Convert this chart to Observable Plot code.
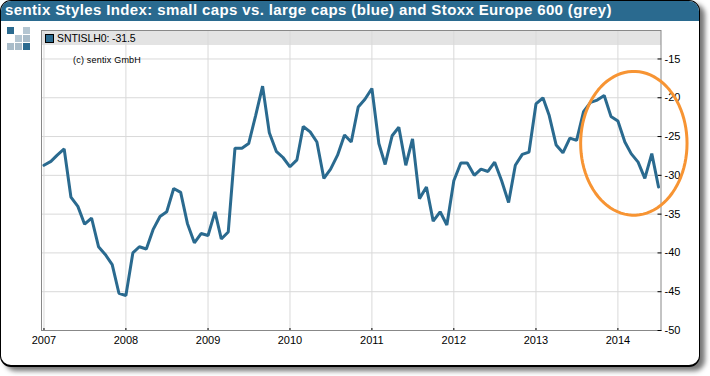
<!DOCTYPE html>
<html>
<head>
<meta charset="utf-8">
<script src="https://cdn.jsdelivr.net/npm/d3@7"></script>
<script src="https://cdn.jsdelivr.net/npm/@observablehq/plot@0.6"></script>
<style>
html,body{margin:0;padding:0;background:#fff;width:710px;height:376px;overflow:hidden}
#wrap{position:relative;width:710px;height:376px;font-family:"Liberation Sans",Arial,sans-serif}
#card{position:absolute;left:0;top:0;width:698px;height:364px;border:1px solid #000;border-bottom-width:2px;border-radius:11px;background:#fff;box-shadow:5px 4px 5px #777;overflow:hidden}
#bar{position:absolute;left:0;top:0;right:0;height:20px;background:#2a6a8f}
#title{position:absolute;left:5px;top:0;line-height:20px;color:#fff;font-weight:bold;font-size:15px;letter-spacing:.38px;white-space:nowrap}
#band{position:absolute;left:41px;top:30px;width:619.5px;height:15px;background:#e3e3e3}
#swatch{position:absolute;left:45px;top:34px;width:7px;height:7px;background:#2a6a8f;border:1px solid #000}
#legend{position:absolute;left:57px;top:31px;line-height:14px;font-size:10.5px;letter-spacing:-.1px;color:#000;white-space:nowrap}
#copy{position:absolute;left:73px;top:54px;line-height:12px;font-size:9px;letter-spacing:.2px;color:#000;white-space:nowrap}
.sq{position:absolute;width:7px;height:7px}
#chart{position:absolute;left:0;top:0}
#chart svg{background:transparent;overflow:visible}
</style>
</head>
<body>
<div id="wrap">
  <div id="card"><div id="bar"></div></div>
  <div id="title">sentix Styles Index: small caps vs. large caps (blue) and Stoxx Europe 600 (grey)</div>
  <div id="band"></div>
  <div id="chart"></div>
  <div id="swatch"></div>
  <div id="legend">SNTISLH0: -31.5</div>
  <div id="copy">(c) sentix GmbH</div>
</div>
<script>
const startYear = 2007;
const values = [
  -28.7,-28.2,-27.4,-26.6,-32.8,-34.0,-36.3,-35.5,-39.2,-40.2,-41.5,-45.2,
  -45.5,-40.0,-39.2,-39.5,-37.0,-35.3,-34.7,-31.7,-32.2,-36.2,-38.7,-37.5,
  -37.75,-34.7,-38.2,-37.3,-26.5,-26.5,-25.9,-22.3,-18.5,-24.5,-26.9,-27.7,
  -28.9,-28.0,-23.7,-24.4,-25.7,-30.4,-29.2,-27.4,-24.8,-25.7,-21.2,-20.2,
  -18.8,-25.9,-28.6,-24.9,-23.8,-28.7,-25.3,-33.0,-31.5,-35.9,-34.7,-36.4,
  -30.7,-28.4,-28.4,-30.0,-29.2,-29.5,-28.3,-30.7,-33.5,-28.7,-27.3,-27.0,
  -20.8,-20.0,-22.3,-26.1,-27.1,-25.2,-25.5,-21.8,-20.6,-20.3,-19.7,-22.4,
  -23.0,-25.7,-27.2,-28.3,-30.4,-27.2,-31.5
];
const yearTicks = [2007,2008,2009,2010,2011,2012,2013,2014];
const valueTicks = [-15,-20,-25,-30,-35,-40,-45,-50];
const gridValues = [-15,-20,-25,-30,-35,-40,-45];

// annotation: the hand-drawn orange ring, in data units
const ringCenterDate = new Date(Date.UTC(2014,2,13));
const ringHalfWidthDays = 237;
const ringCenterValue = -25.87;
const ringHalfHeight = 9.27;
const ringAngles = d3.range(0, 361, 4);

const series = values.map((v,i)=>({date:new Date(Date.UTC(startYear,i,1)), value:v}));
const yearDates = yearTicks.map(y=>new Date(Date.UTC(y,0,1)));
const ring = ringAngles.map(a=>({
  date:new Date(+ringCenterDate + Math.cos(a*Math.PI/180)*ringHalfWidthDays*864e5),
  value:ringCenterValue + Math.sin(a*Math.PI/180)*ringHalfHeight
}));

const logo = [[7,27,"#2a6a8f"],[23,27,"#b4c6d2"],[15,35,"#b4c6d2"],[23,35,"#a9bcc9"],[7,43,"#a9bcc9"],[15,43,"#a9bcc9"],[23,43,"#2a6a8f"]];
const wrap = document.getElementById("wrap");
logo.forEach(([x,y,c])=>{const d=document.createElement("div");d.className="sq";d.style.left=x+"px";d.style.top=y+"px";d.style.background=c;wrap.appendChild(d);});

const chart = Plot.plot({
  width:710, height:376,
  marginLeft:41, marginRight:49.5, marginTop:30, marginBottom:46,
  style:{fontFamily:'"Liberation Sans",Arial,sans-serif',fontSize:"11px",color:"#000",background:"transparent"},
  x:{type:"utc",domain:[new Date(Date.UTC(2006,11,21)),new Date(Date.UTC(2014,6,12))]},
  y:{domain:[-50,-11.33]},
  marks:[
    Plot.ruleY(gridValues,{stroke:"#d9d9d9",strokeWidth:1}),
    Plot.ruleX(yearDates,{stroke:"#d9d9d9",strokeWidth:1}),
    Plot.frame({stroke:"#888",strokeWidth:1}),
    Plot.axisX({ticks:yearDates,tickFormat:d=>String(d.getUTCFullYear()),tickSize:-2,tickPadding:8,label:null,stroke:"#000",fontSize:11,fill:"#000"}),
    Plot.axisY({anchor:"right",ticks:valueTicks,tickFormat:d=>String(d),tickSize:-4,tickPadding:7.5,label:null,stroke:"#000",fontSize:11,fill:"#000"}),
    Plot.line(series,{x:"date",y:"value",stroke:"#2a6a8f",strokeWidth:3,strokeLinejoin:"miter"}),
    Plot.line(ring,{x:"date",y:"value",stroke:"#f79433",strokeWidth:3,clip:false})
  ]
});
document.getElementById("chart").appendChild(chart);
</script>
</body>
</html>
